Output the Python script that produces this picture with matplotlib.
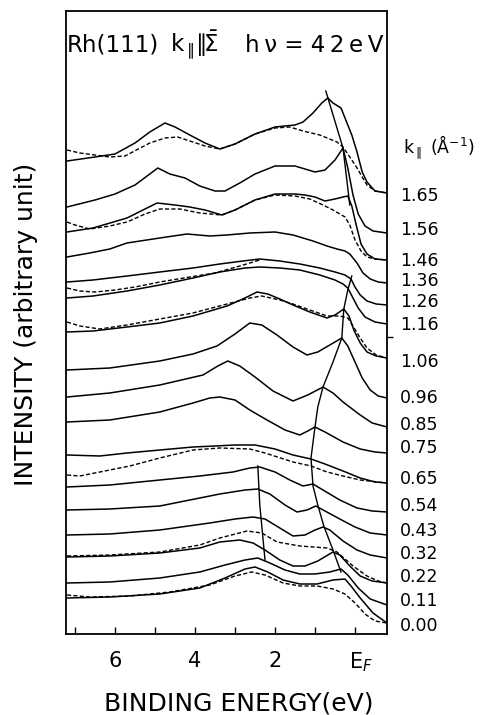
import matplotlib
matplotlib.use("Agg")
import matplotlib.pyplot as plt
import matplotlib.transforms as mtransforms

# spectra: binding energy (eV), intensity (arb. unit, offset included)
e_165 = [7.2, 6.5, 6.0, 5.5, 5.13, 4.75, 4.5, 4.13, 3.75, 3.38, 3.0, 2.5, 2.0, 1.5, 1.3, 1.05, 0.83, 0.68, 0.55, 0.35, 0.25, 0.08, -0.05, -0.18, -0.3, -0.5, -0.8]
i_165 = [473, 477, 480, 491, 502, 511, 507, 499, 491, 485, 490, 500, 507, 509, 512, 521, 531, 536, 531, 526, 516, 499, 482, 462, 452, 443, 441]
e_165d = [7.2, 6.88, 6.13, 5.75, 5.13, 4.75, 4.43, 4.13, 3.75, 3.38, 3.0, 2.5, 2.0, 1.63, 1.3, 0.88, 0.45, 0.3, 0.13, -0.05, -0.18, -0.3, -0.5, -0.8]
i_165d = [484, 481, 477, 478, 491, 496, 497, 493, 488, 485, 490, 500, 506, 507, 503, 499, 492, 487, 477, 466, 457, 449, 443, 441]

e_156 = [7.2, 6.5, 6.0, 5.5, 5.13, 4.93, 4.63, 4.25, 3.88, 3.5, 3.25, 2.88, 2.5, 2.0, 1.5, 1.25, 1.0, 0.75, 0.5, 0.3, 0.18, 0.05, -0.08, -0.25, -0.45, -0.8]
i_156 = [427, 434, 440, 449, 460, 466, 460, 456, 448, 443, 443, 451, 460, 468, 468, 465, 462, 464, 474, 486, 466, 439, 420, 408, 403, 401]

e_146 = [7.2, 6.55, 5.7, 5.25, 4.95, 4.5, 4.13, 3.75, 3.33, 3.0, 2.5, 2.0, 1.5, 1.25, 1.0, 0.75, 0.5, 0.3, 0.18, 0.08, -0.03, -0.15, -0.3, -0.5, -0.8]
i_146 = [402, 406, 416, 425, 431, 429, 427, 424, 419, 424, 434, 440, 440, 439, 437, 433, 435, 437, 438, 428, 409, 390, 380, 375, 374]
e_146d = [7.2, 7.0, 6.63, 6.13, 5.7, 5.25, 4.88, 4.38, 3.88, 3.33, 3.0, 2.5, 2.0, 1.5, 1.13, 0.8, 0.55, 0.25, 0.13, 0.0, -0.15, -0.3, -0.5, -0.8]
i_146d = [412, 409, 405, 408, 412, 420, 425, 425, 421, 419, 424, 434, 439, 438, 435, 429, 424, 417, 409, 394, 383, 377, 375, 374]

e_136 = [7.2, 6.63, 6.13, 5.7, 4.88, 4.2, 3.63, 3.2, 2.63, 2.0, 1.55, 1.05, 0.7, 0.45, 0.25, 0.13, -0.05, -0.2, -0.38, -0.58, -0.8]
i_136 = [377, 381, 385, 391, 396, 400, 398, 399, 401, 402, 399, 393, 388, 385, 383, 380, 371, 361, 355, 352, 351]

e_126 = [7.2, 6.55, 5.7, 4.88, 4.05, 3.38, 2.8, 2.38, 1.88, 1.38, 0.88, 0.5, 0.25, 0.1, 0.0, -0.13, -0.3, -0.53, -0.8]
i_126 = [352, 354, 358, 362, 366, 370, 373, 375, 373, 370, 366, 362, 359, 355, 347, 339, 333, 330, 329]
e_126d = [7.2, 6.88, 6.5, 6.0, 5.5, 4.88, 4.13, 3.5, 2.88, 2.38]
i_126d = [346, 343, 342, 344, 347, 352, 357, 361, 368, 374]

e_116 = [7.2, 6.55, 5.7, 4.88, 4.05, 3.38, 2.75, 2.38, 1.88, 1.38, 0.88, 0.5, 0.3, 0.18, 0.05, -0.08, -0.25, -0.5, -0.8]
i_116 = [336, 338, 343, 349, 356, 362, 366, 367, 366, 364, 359, 354, 350, 346, 336, 326, 317, 312, 310]

e_106 = [7.2, 6.55, 5.7, 4.88, 4.05, 3.2, 2.75, 2.45, 2.18, 1.88, 1.55, 1.13, 0.7, 0.5, 0.28, 0.15, 0.03, -0.13, -0.3, -0.53, -0.8]
i_106 = [302, 303, 307, 311, 318, 328, 336, 342, 340, 335, 329, 322, 316, 319, 325, 318, 304, 291, 282, 278, 276]
e_106d = [7.2, 6.88, 6.38, 5.7, 4.88, 4.05, 3.2, 2.63, 2.33, 1.88, 1.55, 1.13, 0.7, 0.38, 0.18, 0.05, -0.13, -0.3, -0.53, -0.8]
i_106d = [312, 308, 305, 309, 315, 321, 330, 336, 338, 334, 330, 324, 318, 318, 316, 308, 296, 286, 279, 276]

e_096 = [7.2, 6.13, 4.88, 4.05, 3.45, 3.0, 2.63, 2.33, 1.95, 1.55, 1.2, 0.93, 0.63, 0.33, 0.18, 0.0, -0.18, -0.38, -0.58, -0.8]
i_096 = [264, 266, 273, 280, 288, 300, 311, 309, 299, 287, 279, 282, 289, 296, 288, 272, 256, 244, 238, 236]

e_085 = [7.2, 6.13, 4.88, 3.8, 3.43, 3.18, 2.88, 2.5, 2.05, 1.55, 1.18, 0.8, 0.55, 0.3, -0.13, -0.43, -0.8]
i_085 = [237, 241, 249, 259, 268, 273, 268, 257, 243, 233, 239, 247, 241, 232, 219, 211, 207]

e_075 = [7.2, 6.13, 4.88, 4.05, 3.63, 3.38, 3.0, 2.63, 2.2, 1.75, 1.38, 1.18, 1.0, 0.75, 0.3, -0.13, -0.5, -0.8]
i_075 = [212, 214, 222, 231, 236, 237, 234, 224, 214, 204, 199, 203, 207, 202, 192, 185, 182, 181]

e_065 = [7.2, 6.38, 5.7, 4.88, 4.05, 3.5, 3.0, 2.5, 2.0, 1.55, 1.1, 0.75, 0.3, -0.13, -0.5, -0.8]
i_065 = [179, 178, 181, 184, 187, 188, 189, 189, 185, 179, 175, 170, 163, 156, 152, 151]
e_065d = [7.2, 6.88, 6.38, 5.63, 4.88, 4.05, 3.38, 2.63, 2.25, 1.55, 1.1, 0.7, 0.3, -0.13, -0.8]
i_065d = [159, 158, 162, 168, 176, 184, 186, 185, 181, 172, 168, 162, 158, 154, 151]

e_054 = [7.2, 6.13, 4.88, 3.88, 3.05, 2.63, 2.38, 2.0, 1.63, 1.3, 1.05, 0.8, 0.38, -0.05, -0.43, -0.8]
i_054 = [147, 149, 154, 158, 162, 166, 167, 162, 154, 148, 150, 144, 134, 126, 123, 122]

e_043 = [7.2, 6.13, 4.88, 4.13, 3.38, 2.75, 2.43, 2.13, 1.75, 1.45, 1.2, 0.98, 0.75, 0.38, 0.0, -0.38, -0.8]
i_043 = [124, 125, 128, 134, 140, 144, 145, 140, 129, 122, 124, 128, 123, 115, 107, 101, 99]

e_032 = [7.2, 6.13, 4.88, 3.63, 3.0, 2.55, 2.25, 1.88, 1.55, 1.25, 1.0, 0.8, 0.63, 0.3, -0.05, -0.38, -0.8]
i_032 = [99, 100, 104, 111, 115, 117, 115, 106, 98, 99, 104, 107, 104, 93, 84, 79, 76]

e_022 = [7.2, 6.13, 4.88, 3.88, 3.38, 2.88, 2.55, 2.25, 1.88, 1.55, 1.25, 0.93, 0.55, 0.38, 0.13, -0.13, -0.43, -0.8]
i_022 = [77, 78, 81, 86, 92, 94, 91, 84, 74, 68, 68, 73, 82, 79, 68, 58, 53, 51]
e_022d = [7.2, 6.13, 4.88, 3.88, 3.38, 2.7, 2.33, 1.95, 1.38, 0.7, 0.45, 0.05, -0.3, -0.58, -0.8]
i_022d = [78, 79, 82, 89, 96, 103, 101, 92, 88, 86, 82, 68, 58, 53, 51]

e_011 = [7.2, 6.13, 4.88, 3.88, 3.25, 2.75, 2.43, 2.13, 1.75, 1.38, 1.0, 0.63, 0.35, 0.18, -0.08, -0.38, -0.8]
i_011 = [51, 52, 56, 62, 69, 74, 76, 71, 64, 60, 60, 62, 65, 59, 46, 35, 29]

e_000 = [7.2, 6.13, 4.88, 3.88, 3.25, 2.75, 2.5, 2.18, 1.8, 1.38, 0.95, 0.55, 0.25, 0.08, -0.13, -0.45, -0.8]
i_000 = [36, 37, 40, 46, 56, 65, 67, 62, 54, 50, 50, 54, 55, 47, 36, 21, 11]
e_000d = [7.2, 6.63, 5.63, 4.63, 3.63, 3.0, 2.58, 2.25, 1.8, 1.38, 0.95, 0.55, 0.25, 0.0, -0.25, -0.5, -0.8]
i_000d = [39, 37, 38, 42, 49, 58, 62, 59, 51, 48, 48, 45, 40, 31, 20, 13, 11]

# peak dispersion guide lines
e_guide1 = [0.73, 0.3, 0.13]
i_guide1 = [543, 486, 429]
e_guide2 = [0.08, 0.18, 0.28, 0.33, 0.55, 0.8, 0.93, 1.0, 1.1, 1.05, 0.93, 0.78, 0.55, 0.35]
i_guide2 = [358, 344, 325, 296, 272, 247, 227, 207, 176, 148, 129, 108, 84, 62]
e_guide3 = [2.43, 2.38, 2.25]
i_guide3 = [168, 129, 74]

k_labels = ["1.65", "1.56", "1.46", "1.36", "1.26", "1.16", "1.06", "0.96", "0.85",
            "0.75", "0.65", "0.54", "0.43", "0.32", "0.22", "0.11", "0.00"]
label_levels = [438, 404, 373, 353, 332, 309, 272, 236, 209, 186, 155, 128, 103, 80, 57, 33, 8]

solid = [(e_165, i_165), (e_156, i_156), (e_146, i_146), (e_136, i_136), (e_126, i_126),
         (e_116, i_116), (e_106, i_106), (e_096, i_096), (e_085, i_085), (e_075, i_075),
         (e_065, i_065), (e_054, i_054), (e_043, i_043), (e_032, i_032), (e_022, i_022),
         (e_011, i_011), (e_000, i_000)]
dashed = [(e_165d, i_165d), (e_146d, i_146d), (e_126d, i_126d), (e_106d, i_106d),
          (e_065d, i_065d), (e_022d, i_022d), (e_000d, i_000d)]
guides = [(e_guide1, i_guide1), (e_guide2, i_guide2), (e_guide3, i_guide3)]

fig = plt.figure(figsize=(4.84, 7.15), dpi=100)
ax = fig.add_axes([66 / 484, 81 / 715, 321 / 484, 623 / 715])

for e, i in solid:
    ax.plot(e, i, color='black', lw=1.1)
for e, i in dashed:
    ax.plot(e, i, color='black', lw=1.0, linestyle=(0, (3, 1.6)))
for e, i in guides:
    ax.plot(e, i, color='black', lw=1.0)

ax.set_xlim(7.225, -0.8)
ax.set_ylim(0, 623)

for s in ax.spines.values():
    s.set_linewidth(1.3)

ax.set_xticks([7, 6, 5, 4, 3, 2, 1, 0])
ax.set_xticklabels(['', '6', '', '4', '', '2', '', 'E$_F$'])
ax.tick_params(axis='x', direction='in', length=5, width=1, pad=12, labelsize=15)
# E_F sits a bit right of its tick
lab = ax.get_xticklabels()[-1]
lab.set_transform(lab.get_transform() + mtransforms.ScaledTranslation(6 / 100, 0, fig.dpi_scale_trans))

ax.set_yticks([297])
ax.set_yticklabels([])
ax.tick_params(axis='y', left=False, right=True, direction='out', length=4, width=1)

trans = mtransforms.blended_transform_factory(ax.transAxes, ax.transData)
for lbl, lev in zip(k_labels, label_levels):
    ax.text(1.04, lev, lbl, transform=trans, ha='left', va='center', fontsize=12.5)
ax.text(1.05, 487, 'k$_{\\parallel}$ (Å$^{-1}$)', transform=trans, ha='left', va='center', fontsize=12.5)

# title inside the frame, spread out like the original lettering
title_y = 1 - 45 / 715
fig.text(67 / 484, title_y, 'Rh(111)', fontsize=16.5, ha='left', va='center')
fig.text(170 / 484, title_y, r'k$_{\parallel}\!\!\parallel\!\!\bar{\Sigma}$', fontsize=16.5, ha='left', va='center')
fig.text(383 / 484, title_y, 'h\u2009ν = 4\u20092\u2009e\u2009V', fontsize=16.5, ha='right', va='center')

fig.text(26 / 484, 1 - 324 / 715, 'INTENSITY (arbitrary unit)', rotation=90, fontsize=18,
         ha='center', va='center')
fig.text(239 / 484, 1 - 703 / 715, 'BINDING ENERGY(eV)', fontsize=18, ha='center', va='center')

fig.savefig('out.png', dpi=100)
